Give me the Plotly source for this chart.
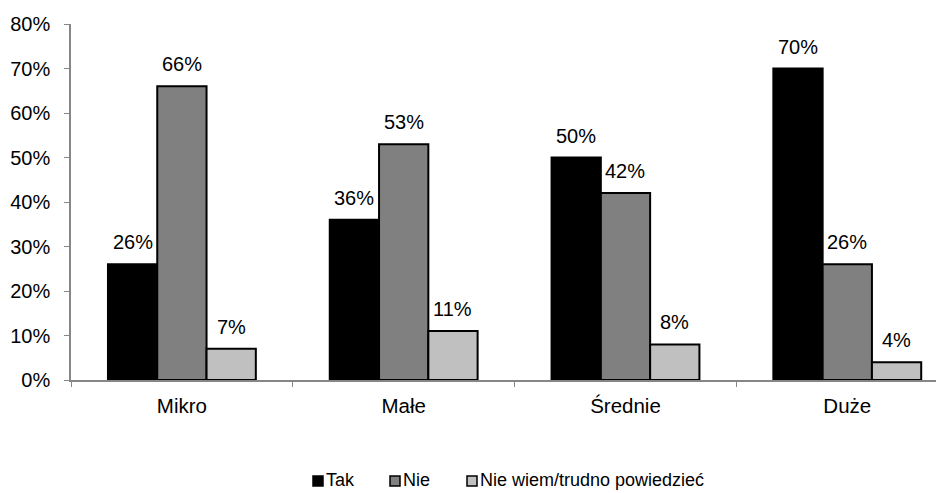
import plotly.graph_objects as go

# Company size groups and answer shares
categories = ["Mikro", "Małe", "Średnie", "Duże"]
series_names = ["Tak", "Nie", "Nie wiem/trudno powiedzieć"]
tak = [0.26, 0.36, 0.50, 0.70]
nie = [0.66, 0.53, 0.42, 0.26]
nie_wiem = [0.07, 0.11, 0.08, 0.04]
y_ticks = [0, 0.1, 0.2, 0.3, 0.4, 0.5, 0.6, 0.7, 0.8]

series_values = [tak, nie, nie_wiem]
colors = ["#000000", "#808080", "#c0c0c0"]
FONT = "Liberation Sans, Arial, sans-serif"

W, H = 936, 493
M_L, M_R, M_T, M_B = 71, 0, 24, 113
PW, PH = W - M_L - M_R, H - M_T - M_B

BARGAP = 1 / 3
n_series = len(series_values)
bar_w = (1 - BARGAP) / n_series

fig = go.Figure()
annotations = []
shapes = []
for s, (name, vals, col) in enumerate(zip(series_names, series_values, colors)):
    fig.add_trace(go.Bar(
        x=categories, y=vals, name=name, showlegend=False,
        marker=dict(color=col, line=dict(color="#000000", width=2)),
    ))
    offset = -(1 - BARGAP) / 2 + bar_w * (s + 0.5)
    for i, v in enumerate(vals):
        annotations.append(dict(
            x=i + offset, y=v, xref="x", yref="y",
            text=f"{round(v * 100)}%", showarrow=False,
            yanchor="bottom", yshift=9,
            font=dict(family=FONT, size=20, color="#000000"),
        ))


def px_x(p):
    return (p - M_L) / PW


def px_y(p):
    return (M_T + PH - p) / PH


# Legend row below the plot: small outlined squares followed by the names
legend_left = [313, 390, 467]
sq = 10
legend_cy = 480
for left, name, col in zip(legend_left, series_names, colors):
    shapes.append(dict(
        type="rect", xref="paper", yref="paper",
        x0=px_x(left), x1=px_x(left + sq),
        y0=px_y(legend_cy - sq / 2 + 1), y1=px_y(legend_cy + sq / 2 + 1),
        fillcolor=col, line=dict(color="#000000", width=1.5),
    ))
    annotations.append(dict(
        x=px_x(left + sq + 1), y=px_y(legend_cy), xref="paper", yref="paper",
        text=name, showarrow=False, xanchor="left", yanchor="middle",
        font=dict(family=FONT, size=18, color="#000000"),
    ))

fig.update_layout(
    width=W, height=H,
    margin=dict(l=M_L, r=M_R, t=M_T, b=M_B),
    paper_bgcolor="white", plot_bgcolor="white",
    barmode="group", bargap=BARGAP, bargroupgap=0,
    font=dict(family=FONT, size=20, color="#000000"),
    annotations=annotations, shapes=shapes,
    showlegend=False,
)
fig.update_xaxes(
    type="category", range=[-0.5, 3.4],
    showline=True, linecolor="#868686", linewidth=1.5,
    ticks="outside", tickson="boundaries", ticklen=5, tickcolor="#868686",
    ticklabelstandoff=7,
    showgrid=False, zeroline=False,
    tickfont=dict(family=FONT, size=20.5, color="#000000"),
)
fig.update_yaxes(
    range=[0, 0.8], tickvals=y_ticks, tickformat=".0%",
    showline=True, linecolor="#868686", linewidth=1.5,
    ticks="outside", ticklen=5, tickcolor="#868686",
    ticklabelstandoff=10,
    showgrid=False, zeroline=False,
    tickfont=dict(family=FONT, size=20, color="#000000"),
)

fig.write_html("out.html")
